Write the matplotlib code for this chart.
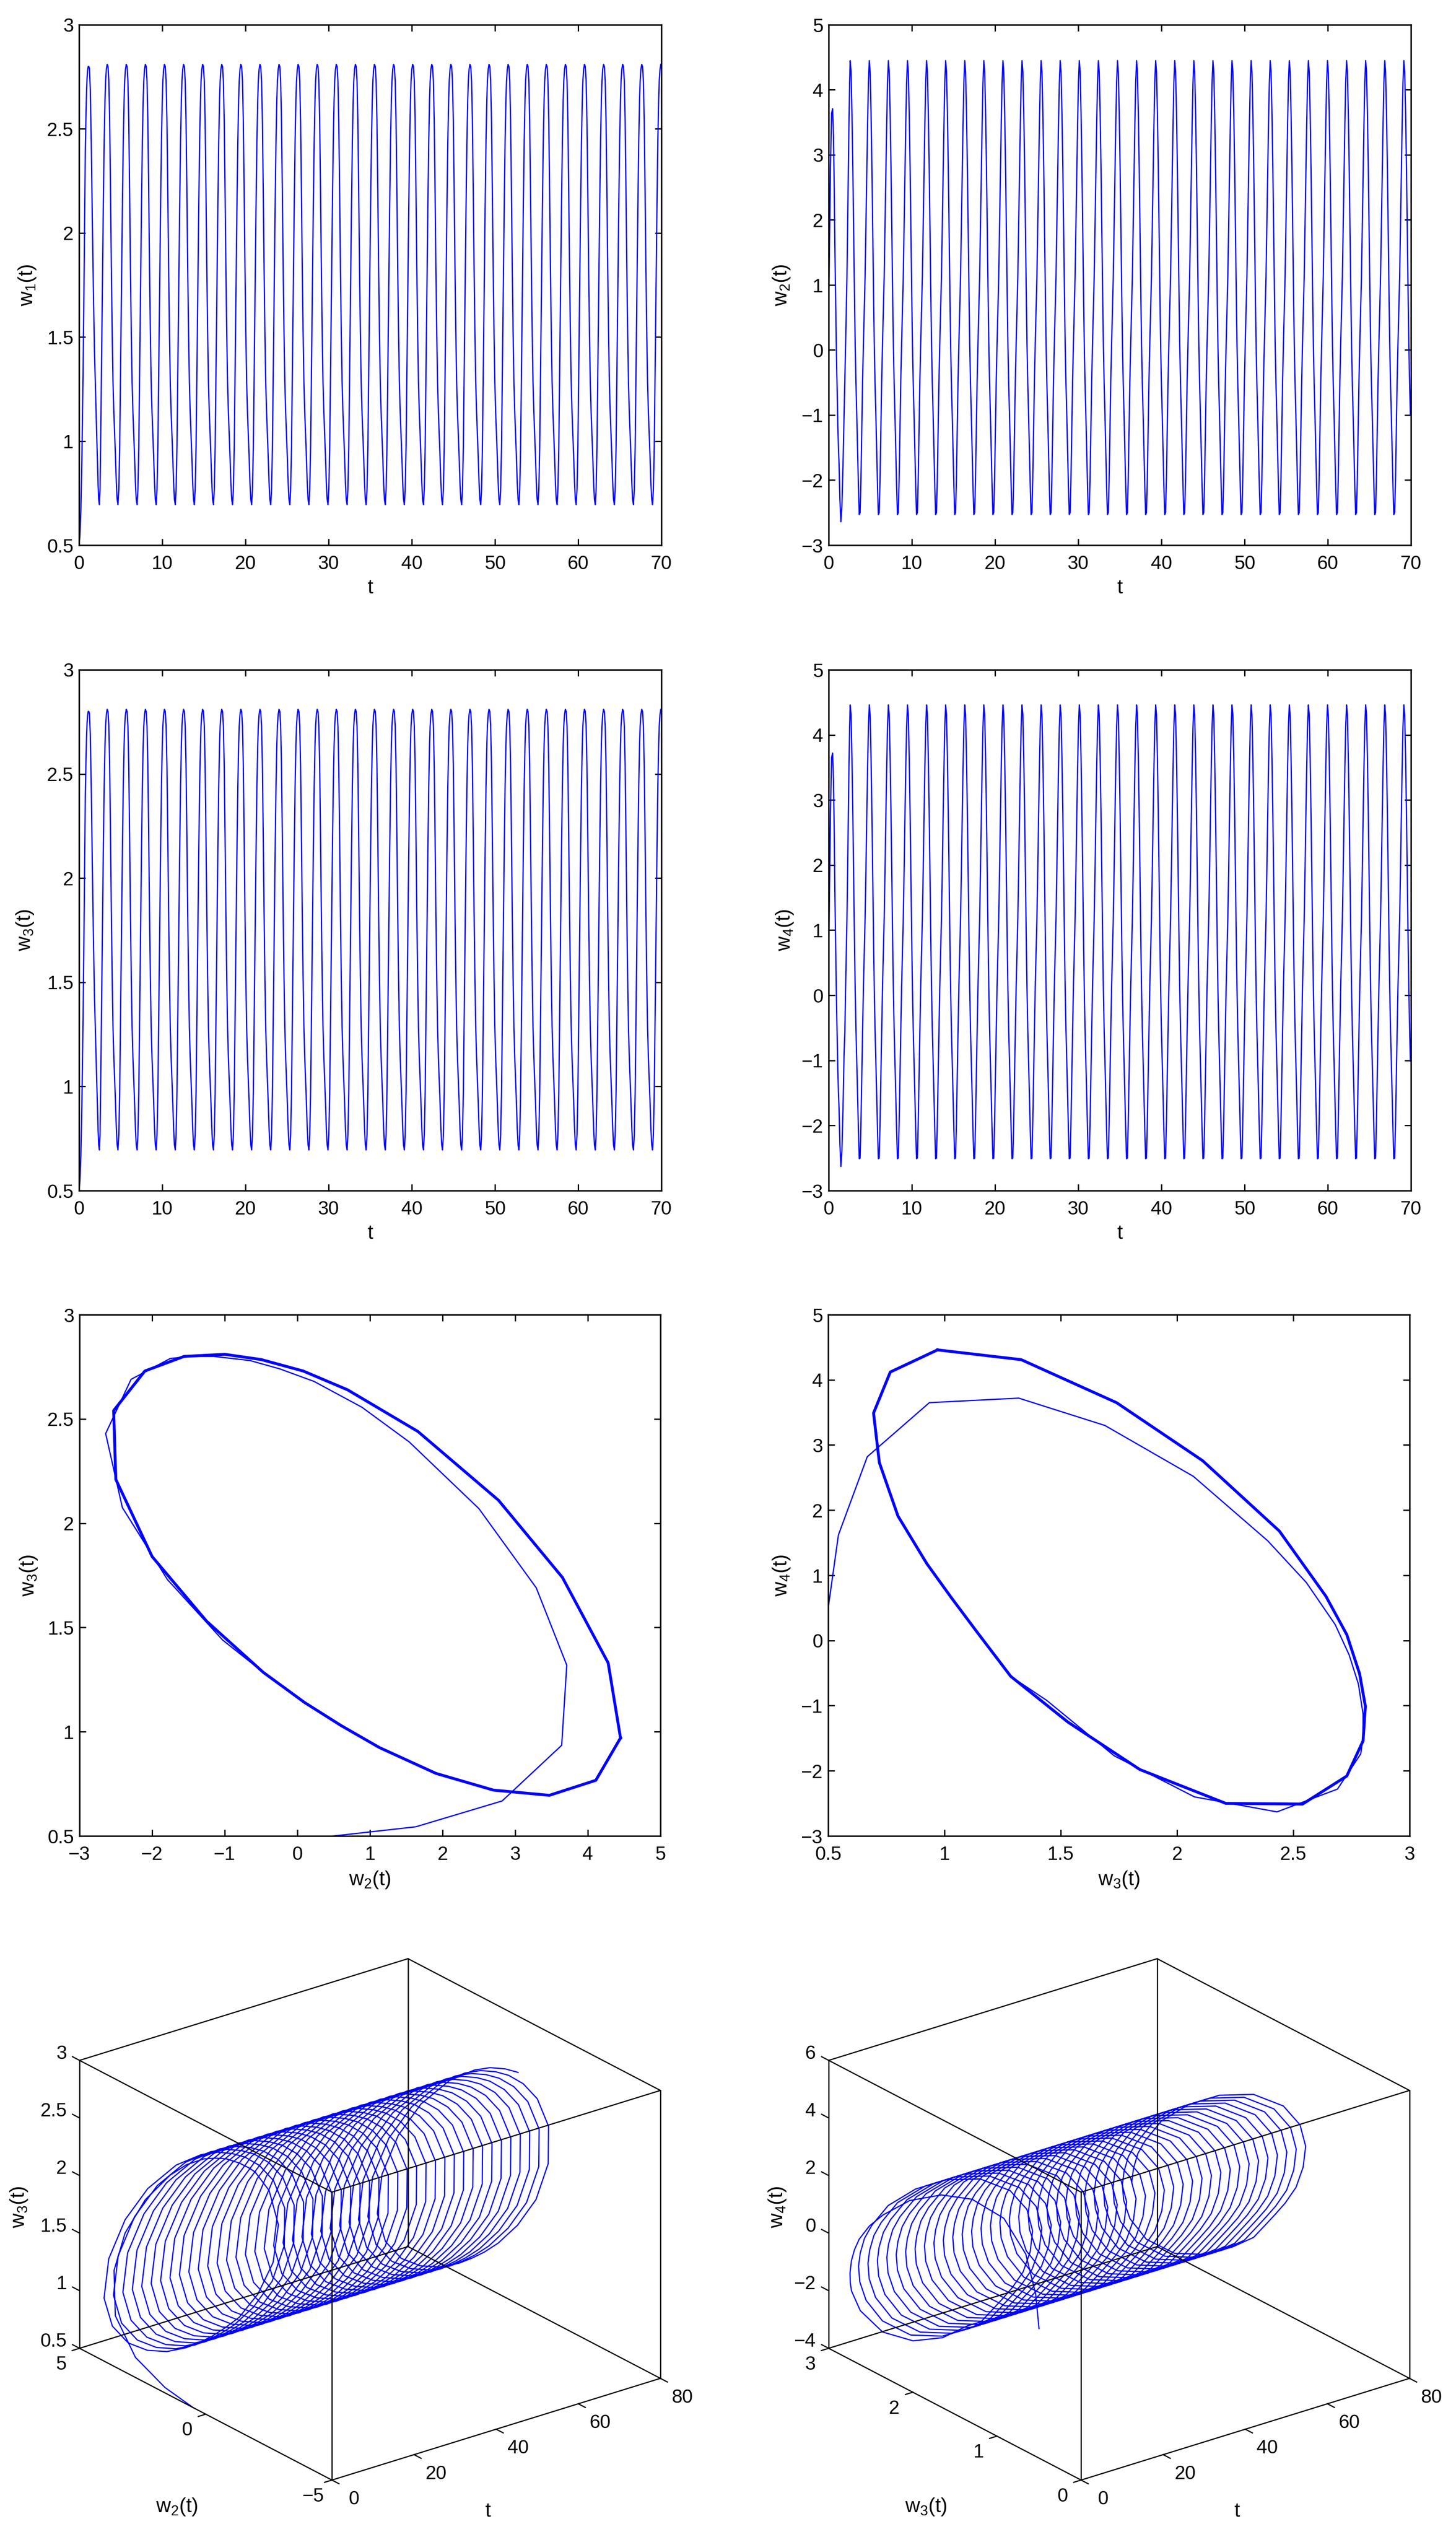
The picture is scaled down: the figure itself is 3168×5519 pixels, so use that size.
"""Stacked w_i(t) time series, phase portraits and 3D trajectories."""

import matplotlib

matplotlib.use("Agg")
import matplotlib.pyplot as plt
import numpy as np
from mpl_toolkits.mplot3d import Axes3D, proj3d  # noqa: F401

W, H = 3168, 5519
DPI = 300
BLUE = (0, 0, 1)
TICK_SIZE = 10
LABEL_SIZE = 10.6

plt.rcParams["font.family"] = ["Liberation Sans Narrow", "Liberation Sans"]
plt.rcParams["font.size"] = TICK_SIZE
plt.rcParams["axes.labelsize"] = LABEL_SIZE
plt.rcParams["mathtext.default"] = "regular"
plt.rcParams["axes.linewidth"] = 0.8

# readings off the phase portraits: start-up stretch, then one loop
t_start = [0, .1, .22, .35, .48, .58, .67, .75, .83, .9, .96, 1.03, 1.1, 1.17,
           1.25, 1.35, 1.47, 1.59, 1.72, 1.85, 1.95, 2.04, 2.12, 2.2, 2.28,
           2.36, 2.44, 2.52]
w2_start = [.5, 1.63, 2.82, 3.64, 3.71, 3.29, 2.5, 1.54, .89, .23, -.24, -.65,
            -1.15, -1.48, -1.75, -2.29, -2.64, -2.41, -1.79, -1.03, -.47, .1,
            .6, 1.13, 1.91, 2.7, 3.47, 4.11]
w3_start = [.5, .544, .668, .935, 1.319, 1.69, 2.07, 2.39, 2.556, 2.68, 2.74,
            2.78, 2.80, 2.80, 2.79, 2.69, 2.43, 2.075, 1.73, 1.44, 1.285, 1.14,
            1.03, .924, .80, .72, .695, .767]
w4_start = [.5, 1.62, 2.82, 3.65, 3.72, 3.3, 2.52, 1.53, .89, .245, -.22, -.67,
            -1.13, -1.48, -1.74, -2.28, -2.63, -2.40, -1.77, -.92, -.55, .13,
            .655, 1.18, 1.91, 2.73, 3.49, 4.12]

t_loop = [0, .10, .21, .32, .43, .53, .60, .69, .79, .89, .99, 1.09, 1.19,
          1.29, 1.39, 1.49, 1.59, 1.69, 1.79, 1.89, 1.99, 2.09, 2.19]
w2_loop = [4.45, 4.28, 3.65, 2.77, 1.66, .69, .08, -.5, -1.0, -1.56, -2.1,
           -2.53, -2.5, -2.0, -1.25, -.47, .1, .6, 1.13, 1.91, 2.7, 3.47, 4.11]
w3_loop = [.97, 1.33, 1.74, 2.11, 2.44, 2.64, 2.73, 2.785, 2.81, 2.80, 2.73,
           2.54, 2.21, 1.84, 1.53, 1.285, 1.14, 1.03, .924, .80, .72, .695, .767]
w4_loop = [4.46, 4.31, 3.65, 2.76, 1.68, .68, .09, -.51, -1.01, -1.54, -2.08,
           -2.51, -2.5, -1.98, -1.25, -.55, .13, .655, 1.18, 1.91, 2.73, 3.49, 4.12]

LOOP_START = 2.59
PERIOD = 2.295
N_LOOPS = 30
T_END = 70

t = np.array(t_start + [LOOP_START + k * PERIOD + s
                        for k in range(N_LOOPS) for s in t_loop])
keep = t <= T_END
t = t[keep]
w2 = np.array(w2_start + w2_loop * N_LOOPS)[keep]
w3 = np.array(w3_start + w3_loop * N_LOOPS)[keep]
w4 = np.array(w4_start + w4_loop * N_LOOPS)[keep]
w1 = w3  # w1 and w3 read the same in the picture

t_ticks = [0, 10, 20, 30, 40, 50, 60, 70]
low_ticks = [.5, 1, 1.5, 2, 2.5, 3]
wide_ticks = [-3, -2, -1, 0, 1, 2, 3, 4, 5]
t3d_ticks = [0, 20, 40, 60, 80]


def add_ax(left, top, right, bottom):
    return fig.add_axes([left / W, 1 - bottom / H, (right - left) / W, (bottom - top) / H])


def fmt(v):
    return f"{v:g}".replace("-", "\u2212")


def style2d(ax, xticks, yticks, xlabel, ylabel, ylabel_x):
    ax.set_xlim(xticks[0], xticks[-1])
    ax.set_ylim(yticks[0], yticks[-1])
    ax.set_xticks(xticks, [fmt(v) for v in xticks])
    ax.set_yticks(yticks, [fmt(v) for v in yticks])
    ax.tick_params(direction="in", top=True, right=True, length=3.3, width=0.7)
    ax.tick_params(axis="x", pad=5)
    ax.tick_params(axis="y", pad=2.8)
    ax.set_xlabel(xlabel, labelpad=3)
    ax.set_ylabel(ylabel)
    ax.yaxis.set_label_coords(ylabel_x, 0.5)


def text3d(ax, x, y, z, s, ha):
    # 3D point to figure coordinates, so the label is a plain figure text
    px, py, _ = proj3d.proj_transform(x, y, z, ax.get_proj())
    fx, fy = fig.transFigure.inverted().transform(ax.transData.transform((px, py)))
    fig.text(fx, fy, s, ha=ha, va="center")


def plot_3d(left, wv, zv, w_ticks, z_ticks, wlabel, zlabel, lab_dx):
    # cube placed so its corners land on the reference's box
    ax = fig.add_axes([left / W, 1 - 5549 / H, 1404 / W, 1404 / H], projection="3d",
                      proj_type="ortho", computed_zorder=False)
    ax.view_init(elev=23.7, azim=-127.6)
    ax.set_box_aspect((902, 900, 684))
    t0, t1 = t3d_ticks[0], t3d_ticks[-1]
    w0, w1_ = w_ticks[0], w_ticks[-1]
    z0, z1 = z_ticks[0], z_ticks[-1]
    ax.set_xlim(t0, t1)
    ax.set_ylim(w0, w1_)
    ax.set_zlim(z0, z1)
    ax.set_xticks([])
    ax.set_yticks([])
    ax.set_zticks([])
    ax.set_axis_off()
    ax.patch.set_alpha(0)
    ax.apply_aspect()
    ax.plot(t, wv, zv, color=BLUE, lw=0.62, zorder=2)
    edge = dict(color="k", lw=0.62, zorder=3)
    for a in (t0, t1):
        for b in (w0, w1_):
            ax.plot([a, a], [b, b], [z0, z1], **edge)
    for c in (z0, z1):
        for b in (w0, w1_):
            ax.plot([t0, t1], [b, b], [c, c], **edge)
        for a in (t0, t1):
            ax.plot([a, a], [w0, w1_], [c, c], **edge)
    dw = 0.028 * (w1_ - w0)
    dz = z1 - z0
    for v in z_ticks:
        ax.plot([t0, t0], [w1_, w1_ + dw], [v, v], **edge)
        text3d(ax, t0, w1_ + 0.05 * (w1_ - w0), v, fmt(v), "right")
    for v in w_ticks:
        ax.plot([t0, -1.8], [v, v], [z0, z0], **edge)
        text3d(ax, -4.5, v, z0 - 0.037 * dz, fmt(v), "center")
    for v in t3d_ticks:
        ax.plot([v, v], [w0, w0 - dw], [z0, z0], **edge)
        text3d(ax, v, w0 - 0.087 * (w1_ - w0), z0 - 0.027 * dz, fmt(v), "center")
    fig.text((385 + lab_dx) / W, 1 - 5453 / H, wlabel, ha="center", va="center",
             fontsize=LABEL_SIZE)
    fig.text((1061 + lab_dx) / W, 1 - 5463 / H, "t", ha="center", va="center",
             fontsize=LABEL_SIZE)
    fig.text((42 + lab_dx * 1.012) / W, 1 - 4801 / H, zlabel, ha="center", va="center",
             rotation=90, fontsize=LABEL_SIZE)


fig = plt.figure(figsize=(W / DPI, H / DPI), dpi=DPI)

# rows 1 and 2: time series
ax = add_ax(172, 54, 1439, 1186)
ax.plot(t, w1, color=BLUE, lw=0.65)
style2d(ax, t_ticks, low_ticks, "t", r"$w_1(t)$", -0.071)

ax = add_ax(1803, 54, 3070, 1186)
ax.plot(t, w2, color=BLUE, lw=0.65)
style2d(ax, t_ticks, wide_ticks, "t", r"$w_2(t)$", -0.063)

ax = add_ax(172, 1457, 1439, 2590)
ax.plot(t, w3, color=BLUE, lw=0.65)
style2d(ax, t_ticks, low_ticks, "t", r"$w_3(t)$", -0.075)

ax = add_ax(1803, 1457, 3070, 2590)
ax.plot(t, w4, color=BLUE, lw=0.65)
style2d(ax, t_ticks, wide_ticks, "t", r"$w_4(t)$", -0.058)

# row 3: phase portraits, the settled loop overplots into a heavy line
ax = add_ax(173, 2860, 1437, 3994)
ax.plot(w2, w3, color=BLUE, lw=0.65)
ax.plot(w2_loop + w2_loop[:1], w3_loop + w3_loop[:1], color=BLUE, lw=1.5)
style2d(ax, wide_ticks, low_ticks, r"$w_2(t)$", r"$w_3(t)$", -0.070)

ax = add_ax(1802, 2860, 3067, 3994)
ax.plot(w3, w4, color=BLUE, lw=0.65)
ax.plot(w3_loop + w3_loop[:1], w4_loop + w4_loop[:1], color=BLUE, lw=1.5)
style2d(ax, low_ticks, wide_ticks, r"$w_3(t)$", r"$w_4(t)$", -0.0625)

# row 4: 3D trajectories
plot_3d(84, w2, w3, [-5, 0, 5], [.5, 1, 1.5, 2, 2.5, 3], r"$w_2(t)$", r"$w_3(t)$", 0)
plot_3d(1714, w3, w4, [0, 1, 2, 3], [-4, -2, 0, 2, 4, 6], r"$w_3(t)$", r"$w_4(t)$", 1630)

fig.savefig("out.png", dpi=DPI)
